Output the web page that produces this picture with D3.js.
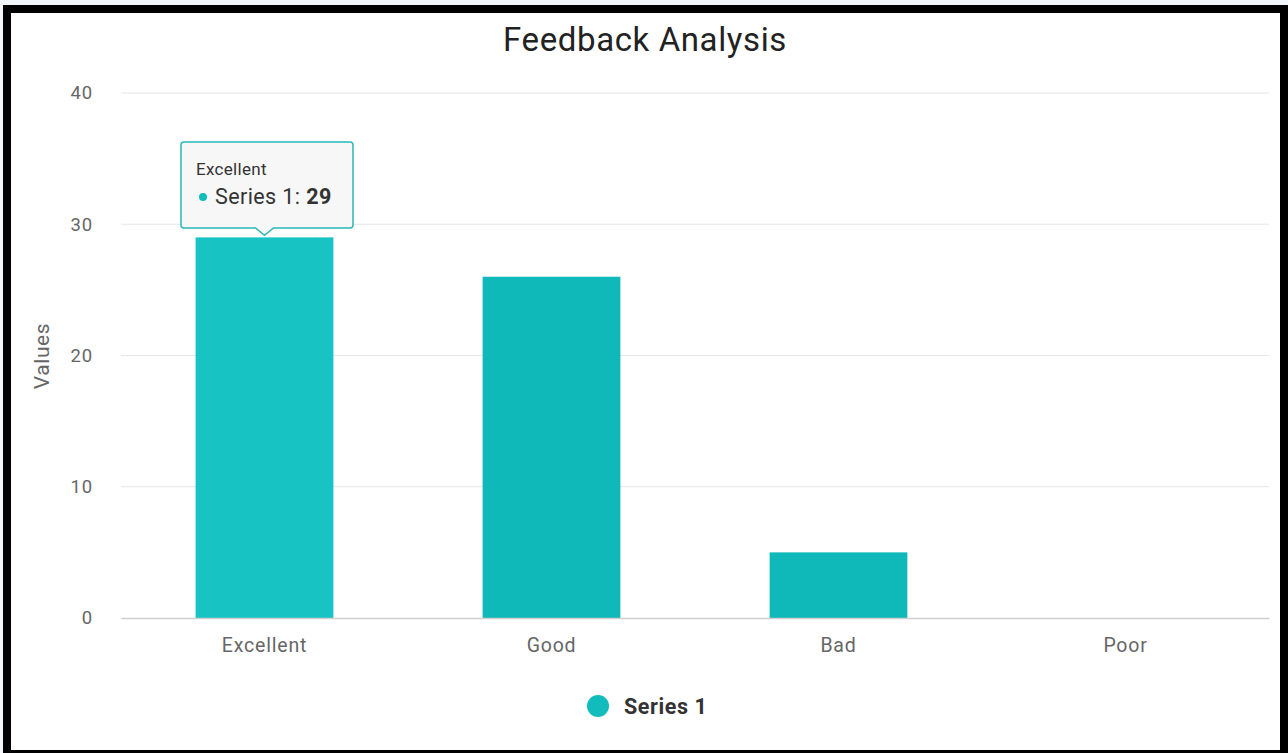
<!DOCTYPE html>
<html>
<head>
<meta charset="utf-8">
<script src="https://cdn.jsdelivr.net/npm/d3@7"></script>
<style>
  html, body { margin: 0; padding: 0; background: #f2f6fa; }
  #frame {
    position: absolute; left: 3px; top: 5px; width: 1269px; height: 737px;
    border: 8px solid #000; border-bottom-width: 3px; background: #fff;
  }
  svg { position: absolute; left: 0; top: 0; font-family: Roboto, "Noto Sans", sans-serif; }
</style>
</head>
<body>
<div id="frame"></div>
<div id="chart"></div>
<script>
// chart data
let categories = ["Excellent", "Good", "Bad", "Poor"];
let values = [29, 26, 5, 0];
let y_ticks = [0, 10, 20, 30, 40];
let series_name = "Series 1";
let chart_title = "Feedback Analysis";
let y_title = "Values";

let width_svg = 1288;
let height_svg = 753;

let margin = { top: 93, right: 19, bottom: 135, left: 121 };
let width = width_svg - margin.left - margin.right;
let height = height_svg - margin.top - margin.bottom;

let svg = d3.select("#chart").append("svg")
    .attr("width", width_svg)
    .attr("height", height_svg);

let chart = svg.append("g")
    .attr("transform", `translate(${margin.left}, ${margin.top})`);

//scales
let x_scale = d3.scaleBand().domain(categories).range([0, width]).paddingInner(0.52).paddingOuter(0.26);
let y_scale = d3.scaleLinear().domain([0, 40]).range([height, 0]);

//grid lines
chart.append("g")
    .selectAll("line")
    .data(y_ticks.filter(t => t > 0))
    .enter().append("line")
    .attr("x1", 0).attr("x2", width)
    .attr("y1", t => y_scale(t)).attr("y2", t => y_scale(t))
    .attr("stroke", "#e6e6e6").attr("stroke-width", 1.2);

//y axis
let y_axis = chart.append("g")
    .call(d3.axisLeft(y_scale).tickValues(y_ticks).tickSize(0).tickPadding(28));
y_axis.select(".domain").remove();
y_axis.selectAll("text").attr("fill", "#666").attr("font-size", 18.5)
    .attr("letter-spacing", 0.8).attr("font-family", "Roboto");

//bars
chart.selectAll("rect.bar")
    .data(values)
    .enter().append("rect")
    .attr("class", "bar")
    .attr("x", (d, i) => x_scale(categories[i]))
    .attr("width", x_scale.bandwidth())
    .attr("y", d => y_scale(d))
    .attr("height", d => height - y_scale(d))
    .attr("fill", (d, i) => i === 0 ? "#17c3c3" : "#10b9b9");

//x axis baseline + labels
let x_axis = chart.append("g")
    .attr("transform", `translate(0, ${height})`)
    .call(d3.axisBottom(x_scale).tickSize(0).tickPadding(20));
x_axis.select(".domain").attr("stroke", "#cfcfcf").attr("stroke-width", 1.6);
x_axis.selectAll("text").attr("fill", "#666").attr("font-size", 19.5)
    .attr("letter-spacing", 0.8).attr("font-family", "Roboto");

//title
svg.append("text")
    .attr("x", 645).attr("y", 51)
    .attr("text-anchor", "middle")
    .attr("font-size", 33).attr("letter-spacing", 0.6).attr("fill", "#222")
    .text(chart_title);

//y title
svg.append("text")
    .attr("transform", "translate(49, 356) rotate(-90)")
    .attr("text-anchor", "middle")
    .attr("font-size", 21).attr("letter-spacing", 0.6).attr("fill", "#666")
    .text(y_title);

//legend
let legend = svg.append("g").attr("transform", "translate(598, 706)");
legend.append("circle").attr("r", 11).attr("fill", "#12bcbc");
legend.append("text").attr("x", 26).attr("y", 8)
    .attr("font-size", 21.5).attr("letter-spacing", 0.6).attr("font-weight", "bold").attr("fill", "#333")
    .text(series_name);

//tooltip on first bar
let tip_x = margin.left + x_scale(categories[0]) + x_scale.bandwidth() / 2;
let tip_y = margin.top + y_scale(values[0]);
let tip = svg.append("g");
let bx0 = 181, bx1 = 353, by0 = 142, by1 = 228;
tip.append("path")
    .attr("d", `M${bx0 + 3},${by0} H${bx1 - 3} Q${bx1},${by0} ${bx1},${by0 + 3} V${by1 - 3} Q${bx1},${by1} ${bx1 - 3},${by1}
        H${tip_x + 9} L${tip_x},${tip_y - 2} L${tip_x - 9},${by1} H${bx0 + 3} Q${bx0},${by1} ${bx0},${by1 - 3} V${by0 + 3} Q${bx0},${by0} ${bx0 + 3},${by0} Z`)
    .attr("fill", "#f7f7f7").attr("fill-opacity", 0.95)
    .attr("stroke", "#2bb8b8").attr("stroke-width", 1.5);
tip.append("text").attr("x", 196).attr("y", 175)
    .attr("font-size", 17).attr("letter-spacing", 0.3).attr("fill", "#333")
    .text(categories[0]);
tip.append("circle").attr("cx", 203).attr("cy", 197).attr("r", 4).attr("fill", "#12bcbc");
let tip_line = tip.append("text").attr("x", 215).attr("y", 204)
    .attr("font-size", 21.5).attr("letter-spacing", 0.4).attr("fill", "#333");
tip_line.append("tspan").text(series_name + ": ");
tip_line.append("tspan").attr("font-weight", "bold").text(values[0]);
</script>
</body>
</html>
